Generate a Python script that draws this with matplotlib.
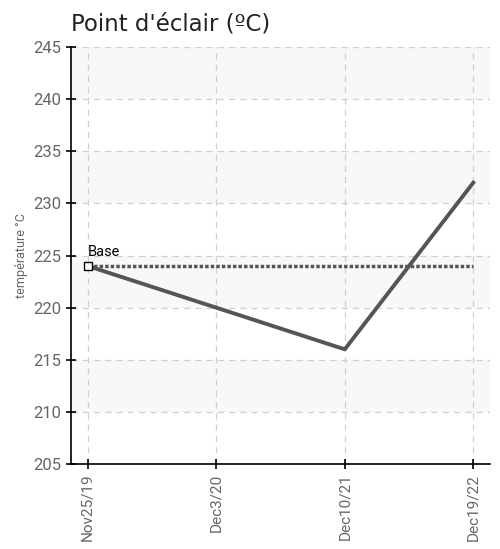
import matplotlib
matplotlib.use('Agg')
import matplotlib.pyplot as plt

# chart values
dates = ['Nov25/19', 'Dec3/20', 'Dec10/21', 'Dec19/22']
flash_point = [224, 220, 216, 232]
base_value = 224
y_ticks = [205, 210, 215, 220, 225, 230, 235, 240, 245]

plt.rcParams['font.family'] = ['Roboto', 'DejaVu Sans']

fig = plt.figure(figsize=(5, 5.49), dpi=100)
ax = fig.add_axes([0.142, 0.155, 0.838, 0.759])

x = list(range(len(dates)))

# alternating background bands
for i in range(len(y_ticks) - 1):
    if i % 2 == 1:
        ax.axhspan(y_ticks[i], y_ticks[i + 1], color='#f8f8f8', zorder=0, lw=0)

ax.grid(True, color='#d0d0d0', linestyle=(0, (5, 4)), linewidth=0.9, zorder=1)

ax.plot([x[0], x[-1]], [base_value, base_value], color='#555555',
        linestyle=(0, (1, 0.6)), linewidth=2.5, zorder=2)
ax.plot(x, flash_point, color='#555555', linewidth=2.8, zorder=3)
ax.plot([x[0]], [base_value], marker='s', markersize=6, markerfacecolor='white',
        markeredgecolor='black', markeredgewidth=1, zorder=4)
ax.text(x[0], base_value + 0.7, 'Base', fontsize=10.5, color='black',
        ha='left', va='bottom', zorder=5)

ax.set_xlim(-0.13, 3.13)
ax.set_ylim(205, 245)
ax.set_xticks(x)
ax.set_xticklabels(dates, rotation=90, fontsize=11, color='#666666')
ax.set_yticks(y_ticks)
ax.tick_params(axis='y', labelsize=12, colors='#666666', direction='inout', length=7)
ax.tick_params(axis='x', direction='inout', length=7)
ax.tick_params(axis='both', color='black', width=1.2)

for s in ['top', 'right']:
    ax.spines[s].set_visible(False)
for s in ['left', 'bottom']:
    ax.spines[s].set_linewidth(1.2)

ax.set_ylabel('température °C', fontsize=9, color='#666666', labelpad=4)
fig.text(0.142, 0.945, "Point d'éclair (ºC)", fontsize=16.5, family='DejaVu Sans',
         color='#222222', ha='left', va='baseline')

fig.savefig('out.png', dpi=100)
